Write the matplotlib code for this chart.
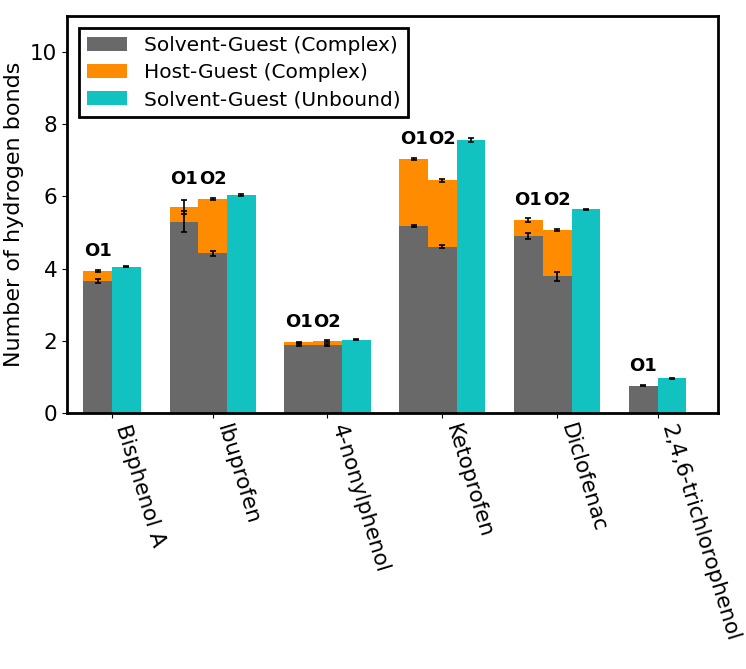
import matplotlib
matplotlib.use("Agg")
import matplotlib.pyplot as plt
import numpy as np

categories = ["Bisphenol A", "Ibuprofen", "4-nonylphenol", "Ketoprofen",
              "Diclofenac", "2,4,6-trichlorophenol"]
sites = [["O1"], ["O1", "O2"], ["O1", "O2"], ["O1", "O2"], ["O1", "O2"], ["O1"]]
sg_complex = [[3.65], [5.30, 4.42], [1.87, 1.88], [5.18, 4.61], [4.90, 3.78], [0.75]]
sg_complex_err = [[0.06], [0.30, 0.06], [0.03, 0.03], [0.02, 0.04], [0.08, 0.12], [0.02]]
hg_complex = [[0.29], [0.41, 1.50], [0.08, 0.10], [1.86, 1.84], [0.45, 1.29], [0.0]]
hg_complex_err = [[0.03], [0.20, 0.03], [0.02, 0.03], [0.02, 0.04], [0.05, 0.02], [0.0]]
sg_unbound = [4.05, 6.04, 2.03, 7.56, 5.64, 0.96]
sg_unbound_err = [0.01, 0.02, 0.01, 0.06, 0.01, 0.01]

labels = ["Solvent-Guest (Complex)", "Host-Guest (Complex)", "Solvent-Guest (Unbound)"]
colors = ["dimgray", "darkorange", "#12c2c0"]

fig = plt.figure(figsize=(7.46, 6.69), dpi=100)
ax = fig.add_axes([0.0898, 0.383, 0.8727, 0.593])

w = 1.0
# group centre positions: each group has n complex bars + 1 unbound; gap of one bar width
nbars = [len(s) + 1 for s in sites]
centers = []
pos = 0.0
for i, n in enumerate(nbars):
    if i == 0:
        pos = 0.0
    else:
        pos += nbars[i - 1] * w / 2 + w + n * w / 2
    centers.append(pos)

ekw = dict(ecolor="black", elinewidth=1.2, capsize=2, capthick=1.2)
for i, c in enumerate(centers):
    n = nbars[i]
    xs = [c + (k - (n - 1) / 2) * w for k in range(n)]
    for k, site in enumerate(sites[i]):
        x = xs[k]
        ax.bar(x, sg_complex[i][k], width=w, color=colors[0], yerr=sg_complex_err[i][k],
               error_kw=ekw, label=labels[0] if (i == 0 and k == 0) else None)
        ax.bar(x, hg_complex[i][k], width=w, bottom=sg_complex[i][k], color=colors[1],
               yerr=hg_complex_err[i][k] if hg_complex[i][k] > 0 else None,
               error_kw=ekw, label=labels[1] if (i == 0 and k == 0) else None)
    ymax = max(sg_complex[i][k] + hg_complex[i][k] for k in range(len(sites[i])))
    for k, site in enumerate(sites[i]):
        ax.text(xs[k], ymax + 0.55, site, ha="center", va="center",
                fontsize=13, fontweight="bold")
    ax.bar(xs[-1], sg_unbound[i], width=w, color=colors[2], yerr=sg_unbound_err[i],
           error_kw=ekw, label=labels[2] if i == 0 else None)

ax.set_xlim(centers[0] - 1.57 * w, centers[-1] + 2.1 * w)
ax.set_ylim(0, 11)
ax.set_yticks([0, 2, 4, 6, 8, 10])
ax.set_xticks(centers)
ax.set_xticklabels(categories, rotation=-73, ha="left", va="top",
                   rotation_mode="default", fontsize=15.5)
for t in ax.get_xticklabels():
    t.set_x(t.get_position()[0])
ax.tick_params(axis="x", pad=3)
ax.tick_params(axis="y", labelsize=15.5)
ax.set_ylabel("Number of hydrogen bonds", fontsize=16)
for s in ax.spines.values():
    s.set_linewidth(2)
leg = ax.legend(loc="upper left", fontsize=14.5, fancybox=False, edgecolor="black",
                framealpha=1, handlelength=2.0, labelspacing=0.4, borderaxespad=0.6)
leg.get_frame().set_linewidth(2)

fig.savefig("out.png", dpi=100)
